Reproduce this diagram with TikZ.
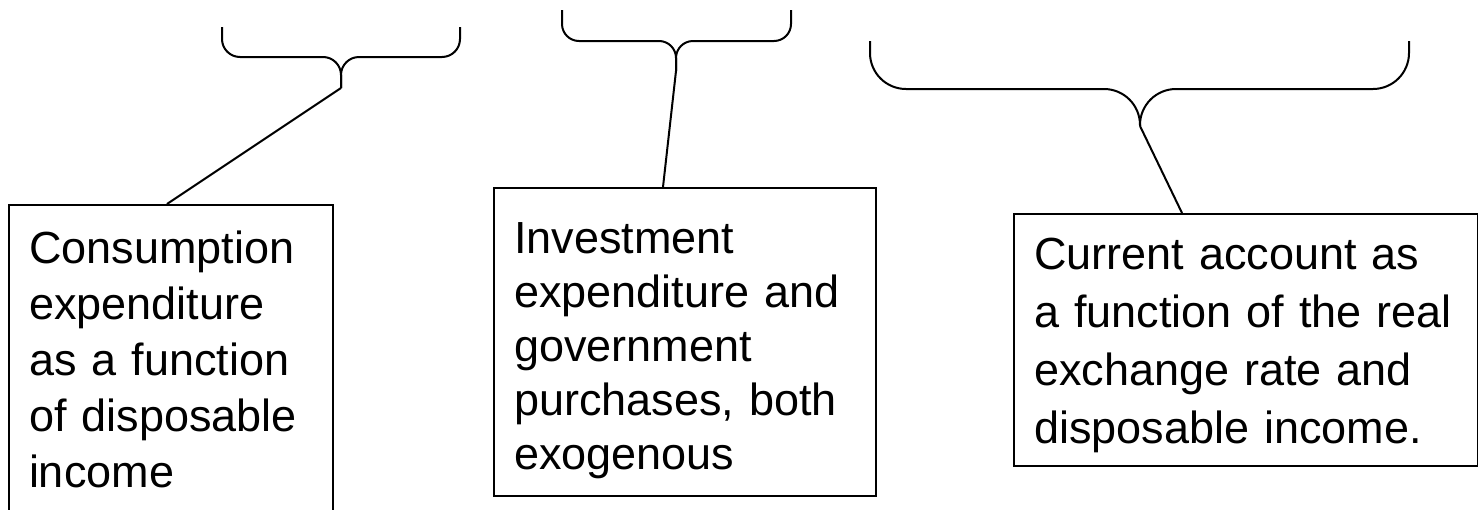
\documentclass[tikz,border=0pt]{standalone}
\usepackage{fontspec}
\setmainfont{Liberation Sans}

\begin{document}
\begin{tikzpicture}[x=0.5pt, y=-0.5pt, line width=1pt,
        box/.style = {draw, anchor=north west, align=left, inner xsep=10pt, inner ysep=0pt},
        brace/.style = {rounded corners=#1}]
        \useasboundingbox (0, 0) rectangle (1478, 509);
        \clip (0, 0) rectangle (1478, 509);

        % tips of the braces
        \coordinate (tC) at (341, 88);
        \coordinate (tI) at (676, 71);
        \coordinate (tCA) at (1140, 126);

        \draw[brace=9pt] (222, 27) |- (341, 57) -- (tC);
        \draw[brace=9pt] (tC) -- (341, 57) -| (460, 27);
        \draw[brace=8.5pt] (562, 10) |- (676, 41) -- (tI);
        \draw[brace=8.5pt] (tI) -- (676, 41) -| (791, 10);
        \draw[brace=18pt] (870, 41) |- (1140, 89) -- (tCA);
        \draw[brace=18pt] (tCA) -- (1140, 89) -| (1409, 41);

        \node[box, text width=142pt, text height=29pt, text depth=160pt,
              font=\fontsize{22.5}{28}\selectfont] at (8, 204) (C)
              {Consumption\\ expenditure\\ as a function\\ of disposable\\ income};
        \node[box, text width=171pt, text height=32.5pt, text depth=121.5pt,
              font=\fontsize{22.5}{27}\selectfont] at (493, 187) (I)
              {Investment\\ expenditure and\\ government\\ purchases, both\\ exogenous};
        \node[box, text width=212pt, text height=27.5pt, text depth=98.5pt,
              font=\fontsize{22.5}{29}\selectfont] at (1013, 213) (CA)
              {Current account as\\ a function of the real\\ exchange rate and\\ disposable income.};

        \draw (tC) -- ([xshift=79.5pt]C.north west);
        \draw (tI) -- ([xshift=85pt]I.north west);
        \draw (tCA) -- ([xshift=84.5pt]CA.north west);
\end{tikzpicture}
\end{document}
